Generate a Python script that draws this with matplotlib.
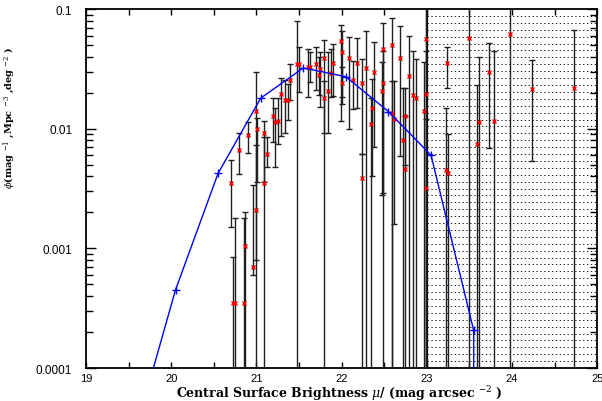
import numpy as np
import matplotlib
matplotlib.use('Agg')
import matplotlib.pyplot as plt
from matplotlib.ticker import MultipleLocator, LogLocator, NullFormatter

matplotlib.rcParams['mathtext.fontset'] = 'dejavuserif'

# measured points: central surface brightness, phi and the error bar ends
# (lower end 0 means the bar runs off the bottom of the log axis)
mu = [20.70, 20.72, 20.75, 20.80, 20.85, 20.87, 20.90, 20.96, 21.00, 21.00,
      21.01, 21.09, 21.09, 21.12, 21.19, 21.22, 21.25, 21.29, 21.34, 21.37,
      21.39, 21.48, 21.50, 21.60, 21.63, 21.70, 21.75, 21.73, 21.79, 21.79,
      21.84, 21.87, 21.90, 21.99, 22.00, 22.01, 22.09, 22.13, 22.18, 22.24,
      22.24, 22.29, 22.36, 22.35, 22.38, 22.49, 22.48, 22.47, 22.59, 22.59,
      22.62, 22.69, 22.72, 22.74, 22.74, 22.79, 22.84, 22.87, 22.97, 22.99,
      22.99, 22.99, 23.24, 23.22, 23.25, 23.49, 23.61, 23.59, 23.73, 23.79,
      23.98, 24.24, 24.73]
phi = [0.0035, 0.00035, 0.00035, 0.0067, 0.00035, 0.00105, 0.0088, 0.0007, 0.0021, 0.0140,
       0.0100, 0.0092, 0.0035, 0.0061, 0.0127, 0.0113, 0.0117, 0.0195, 0.0174, 0.0174,
       0.0256, 0.0347, 0.0347, 0.0330, 0.0330, 0.0347, 0.0317, 0.0280, 0.0393, 0.0180,
       0.0208, 0.0290, 0.0352, 0.0537, 0.0435, 0.0240, 0.0389, 0.0256, 0.0357, 0.0240,
       0.0039, 0.0319, 0.0150, 0.0109, 0.0296, 0.0463, 0.0240, 0.0208, 0.0500, 0.0135,
       0.0120, 0.0390, 0.0081, 0.0127, 0.0046, 0.0274, 0.0192, 0.0179, 0.0140, 0.0560,
       0.0195, 0.0032, 0.0351, 0.00454, 0.00427, 0.0573, 0.0113, 0.0074, 0.0296, 0.0117,
       0.0615, 0.0215, 0.0217]
phi_lo = [0.0015, 0, 0, 0.0042, 0, 0, 0.0063, 0.0006, 0.0008, 0,
          0.0036, 0.0036, 0, 0.0048, 0.0077, 0.0048, 0.0075, 0.0087, 0.0092, 0.0118,
          0.0175, 0, 0.0201, 0.0183, 0.0247, 0.0211, 0.0152, 0.0190, 0.0092, 0,
          0.0092, 0.0183, 0.0188, 0.0115, 0.0183, 0.0160, 0.0100, 0.0146, 0.0149, 0.0062,
          0, 0, 0.0040, 0, 0.0070, 0.0029, 0, 0.0028, 0, 0,
          0.0016, 0.0059, 0, 0.0050, 0, 0, 0, 0, 0, 0,
          0, 0, 0.0218, 0, 0, 0, 0, 0, 0.0069, 0,
          0, 0.0054, 0]
phi_hi = [0.0055, 0.00085, 0.0018, 0.0092, 0.0018, 0.0020, 0.0113, 0.0034, 0.0073, 0.0296,
          0.0124, 0.0117, 0.0085, 0.0085, 0.0179, 0.0150, 0.0179, 0.0263, 0.0255, 0.0235,
          0.0347, 0.079, 0.048, 0.0462, 0.0435, 0.0479, 0.0435, 0.0400, 0.0555, 0.0250,
          0.0435, 0.0463, 0.0510, 0.074, 0.0659, 0.0330, 0.058, 0.0369, 0.057, 0.038,
          0.0062, 0.065, 0.026, 0.018, 0.0527, 0.0764, 0.045, 0.036, 0.0836, 0.025,
          0.025, 0.0726, 0.022, 0.0220, 0.0127, 0.059, 0.0449, 0.038, 0.036, 0.15,
          0.045, 0.012, 0.0484, 0.0148, 0.009, 0.15, 0.040, 0.023, 0.0525, 0.0449,
          0.15, 0.0372, 0.0668]

# model curve (blue)
mu_fit = [19.55, 20.05, 20.55, 21.05, 21.55, 22.05, 22.55, 23.05, 23.55, 24.05]
phi_fit = [2.5e-5, 4.5e-4, 0.00424, 0.018, 0.0322, 0.0272, 0.0139, 0.0060, 2.06e-4, 0.0]

# incompleteness region
incomplete_from = 23.0
incomplete_to = 25.0

mu = np.array(mu)
phi = np.array(phi)
yerr = [phi - np.array(phi_lo), np.array(phi_hi) - phi]

fig = plt.figure(figsize=(6.02, 4.02), dpi=100)
ax = fig.add_axes([0.143, 0.082, 0.849, 0.893])
ax.set_yscale('log')

# dotted horizontal lines shading the incomplete part
ax.hlines(np.arange(1, 52) / 52.0, incomplete_from, incomplete_to,
          transform=ax.get_xaxis_transform(), colors='0.1', lw=0.7,
          linestyles=(0, (1.4, 2.6)), zorder=1)
ax.axvline(incomplete_from, color='k', lw=1.6, zorder=2)

ax.errorbar(mu, phi, yerr=yerr, fmt='none', ecolor='0.12', elinewidth=1.0,
            capsize=2.3, capthick=1.0, zorder=3)
ax.plot(mu, phi, 'x', color='red', ms=3.0, mew=1.0, zorder=4)
ax.plot(mu_fit, phi_fit, '-', color='blue', lw=1.0, marker='+', ms=6, mew=1.0, zorder=5)

ax.set_xlim(19, 25)
ax.set_ylim(1e-4, 0.1)

ax.set_xticks([19, 20, 21, 22, 23, 24, 25])
ax.set_xticklabels(['19', '20', '21', '22', '23', '24', '25'])
ax.xaxis.set_minor_locator(MultipleLocator(0.5))
ax.set_yticks([1e-4, 1e-3, 1e-2, 1e-1])
ax.set_yticklabels(['0.0001', '0.001', '0.01', '0.1'])
ax.yaxis.set_minor_locator(LogLocator(base=10, subs=np.arange(2, 10)))
ax.yaxis.set_minor_formatter(NullFormatter())

ax.tick_params(which='both', direction='in', top=True, right=True, width=1.0)
ax.tick_params(axis='y', which='major', length=7, pad=10)
ax.tick_params(axis='y', which='minor', length=5)
ax.tick_params(axis='x', which='both', length=4, pad=3.5)
for lab in ax.get_yticklabels():
    lab.set_fontfamily('Liberation Sans')
    lab.set_fontsize(8.5)
for lab in ax.get_xticklabels():
    lab.set_fontfamily('Liberation Sans')
    lab.set_fontsize(8)
for s in ax.spines.values():
    s.set_linewidth(1.3)

ax.set_xlabel(r'Central Surface Brightness $\mu$/ (mag arcsec $^{-2}$ )',
              family='DejaVu Serif', weight='bold', fontsize=9)
ax.xaxis.label.set_verticalalignment('center')
ax.xaxis.set_label_coords(0.495, -0.0695)
ax.set_ylabel(r'$\phi$(mag $^{-1}$ ,Mpc $^{-3}$ ,deg $^{-2}$ )',
              family='DejaVu Serif', weight='bold', fontsize=7)
ax.yaxis.set_label_coords(-0.135, 0.70)

fig.savefig('out.png', dpi=100)
